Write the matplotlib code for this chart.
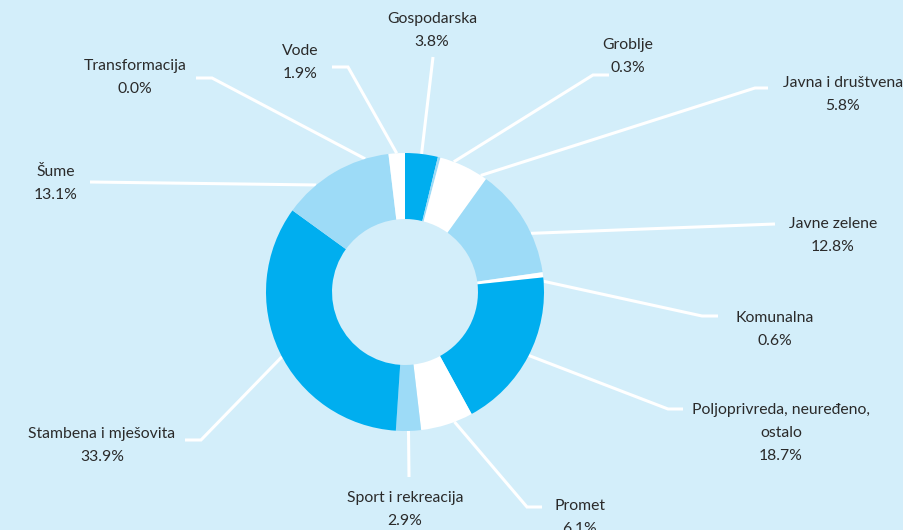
import numpy as np
import matplotlib
matplotlib.use("Agg")
import matplotlib.pyplot as plt

# land use shares (%), clockwise from 12 o'clock
categories = [
    "Gospodarska", "Groblje", "Javna i društvena", "Javne zelene", "Komunalna",
    "Poljoprivreda, neuređeno,\nostalo", "Promet", "Sport i rekreacija",
    "Stambena i mješovita", "Šume", "Transformacija", "Vode",
]
shares = [3.8, 0.3, 5.8, 12.8, 0.6, 18.7, 6.1, 2.9, 33.9, 13.1, 0.0, 1.9]

DARK = "#00aeef"
LIGHT = "#9ddbf7"
WHITE = "#ffffff"
BG = "#d3eefa"
slice_colors = [DARK, LIGHT, WHITE, LIGHT, WHITE, DARK, WHITE, LIGHT, DARK, LIGHT, WHITE, WHITE]

# layout, in pixels of the 904x530 canvas
W, H = 904, 530
CX, CY, R = 405, 292, 139
HOLE = 0.525
# label block: centre x, centre y of first line
label_pos = [
    (432, 19), (628, 45), (843, 83), (833, 224), (775, 318), (781, 410),
    (580, 506), (405, 498), (102, 434), (56, 172), (135, 66), (300, 51),
]
# leader line: outer end, optional elbow
leader_end = [
    (433, 57), (609, 75), (768, 88), (775, 224), (718, 316), (683, 409),
    (542, 507), (409, 477), (185, 440), (90, 182), (196, 78), (332, 67),
]
leader_elbow = [
    None, (593, 75), (755, 88), None, (702, 316), (668, 409),
    (527, 507), None, (201, 440), None, (212, 78), (348, 67),
]
# shift of the anchor on the ring away from the slice middle (degrees, clockwise)
anchor_shift = [0, 6.3, 7.8, 6.3, 2.7, -0.5, -3.2, 0, -2.6, -9.2, -9.8, 0]
LINE_GAP = 23


def px(x, y):
    return (x - CX) / R, (CY - y) / R


fig = plt.figure(figsize=(W / 100, H / 100), dpi=100, facecolor=BG)
ax = fig.add_axes([0, 0, 1, 1])
ax.set_facecolor(BG)

wedges, _ = ax.pie(
    shares, colors=slice_colors, startangle=90, counterclock=False,
    radius=1, wedgeprops=dict(width=1 - HOLE, linewidth=0),
)
# pie() resets the limits, so set them afterwards
ax.set_xlim(-CX / R, (W - CX) / R)
ax.set_ylim(-(H - CY) / R, CY / R)
ax.set_aspect("equal")
ax.axis("off")

total = sum(shares)
cum = np.cumsum([0] + shares[:-1])
for i, name in enumerate(categories):
    mid = (cum[i] + shares[i] / 2) / total * 360 + anchor_shift[i]
    ang = np.deg2rad(90 - mid)
    pts = [px(*leader_end[i])]
    if leader_elbow[i] is not None:
        pts.append(px(*leader_elbow[i]))
    pts.append((np.cos(ang), np.sin(ang)))
    xs, ys = zip(*pts)
    ax.plot(xs, ys, color="white", lw=2.2, solid_capstyle="butt",
            solid_joinstyle="miter", zorder=1)

    lines = name.split("\n") + [f"{shares[i]:.1f}%"]
    lx, ly = label_pos[i]
    for k, t in enumerate(lines):
        ax.text(*px(lx, ly + k * LINE_GAP), t, ha="center", va="center",
                fontsize=11.3, family="Lato", color="#2a2a2a")

for w in wedges:
    w.set_zorder(2)

fig.savefig("out.png", dpi=100, facecolor=BG)
